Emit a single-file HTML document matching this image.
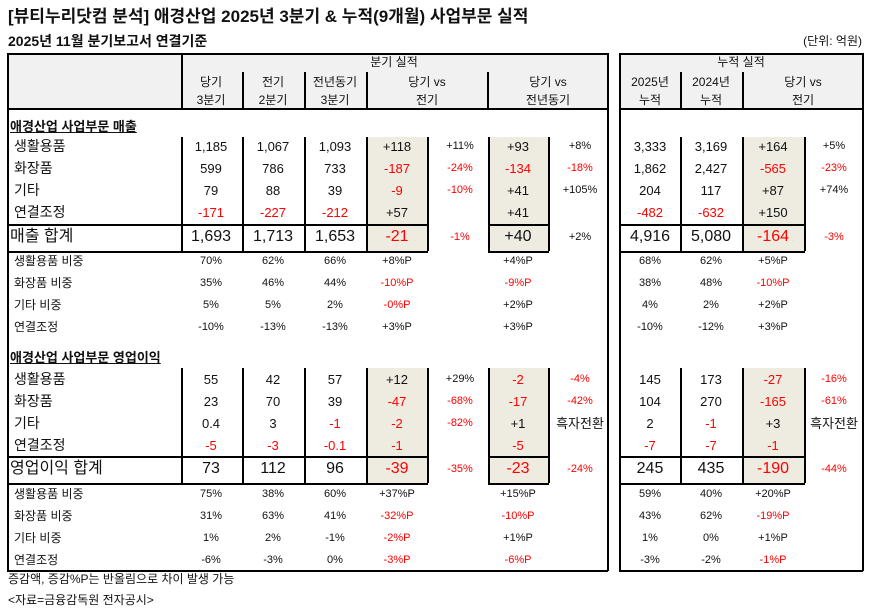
<!DOCTYPE html>
<html><head><meta charset="utf-8">
<style>
body{margin:0;background:#fff;width:870px;height:612px;position:relative;overflow:hidden;font-family:"Liberation Sans","Noto Sans CJK KR",sans-serif;color:#111}
.t{position:absolute;white-space:nowrap;line-height:1}
.c{transform:translateX(-50%)}
.r{color:#ff0000}
.ln{position:absolute;background:#000}
.sh{position:absolute;background:#eeebe1}
.hd{position:absolute;background:#f1f1f1}
</style></head><body>
<div id="root"></div>
<script>
var R=document.getElementById('root'),H='';
function T(x,y,s,fs,cls,extra){H+='<div class="t '+(cls||'')+'" style="left:'+x+'px;top:'+(y-fs*0.55)+'px;font-size:'+fs+'px;'+(extra||'')+'">'+s+'</div>';}
function L(x,y,w,h){H+='<div class="ln" style="left:'+x+'px;top:'+y+'px;width:'+w+'px;height:'+h+'px"></div>';}
function S(x,y,w,h,c){H+='<div class="'+c+'" style="left:'+x+'px;top:'+y+'px;width:'+w+'px;height:'+h+'px"></div>';}
S(7,53,601,56,'hd');S(619,53,244,56,'hd');
[[137,251],[368,483]].forEach(function(b){S(367,b[0],61,b[1]-b[0],'sh');S(488,b[0],61,b[1]-b[0],'sh');S(742,b[0],63,b[1]-b[0],'sh');});
L(7,53,601,1.5);L(7,570,601,1.5);L(7,53,1.5,518);L(607,53,1.5,518);
L(619,53,244,1.5);L(619,570,244,1.5);L(619,53,1.5,518);L(862,53,1.5,518);
L(7,108,601,1.5);L(619,108,244,1.5);
L(181,53,1.5,56);
[242,304,366,487].forEach(function(x){L(x,72,1.5,37)});
[680,742].forEach(function(x){L(x,72,1.5,37)});
[[137,251],[368,483]].forEach(function(b){
 [181,242,304,366,427,488,548,680,742,804].forEach(function(x){L(x,b[0],1.5,b[1]-b[0])});
 var t=b[1]-27;L(7,t,421,1.5);L(7,b[1],421,1.5);L(488,t,61,1.5);L(488,b[1],61,1.5);L(619,t,186,1.5);L(619,b[1],186,1.5);
});
H+='<div class="t" style="left:8px;top:8px;font-size:17px;font-weight:bold">[뷰티누리닷컴 분석] 애경산업 2025년 3분기 &amp; 누적(9개월) 사업부문 실적</div>';
H+='<div class="t" style="left:8px;top:34px;font-size:14px;font-weight:bold">2025년 11월 분기보고서 연결기준</div>';
H+='<div class="t" style="right:8px;top:35px;font-size:12px">(단위: 억원)</div>';
T(394,63,'분기 실적',12,'c');T(741,63,'누적 실적',12,'c');
var hc=[[211,'당기','3분기'],[273,'전기','2분기'],[335,'전년동기','3분기'],[427,'당기 vs','전기'],[548,'당기 vs','전년동기'],[650,'2025년','누적'],[711,'2024년','누적'],[803,'당기 vs','전기']];
hc.forEach(function(h){T(h[0],83,h[1],12,'c');T(h[0],101,h[2],12,'c');});
var X=[211,273,335,397,460,518,580,650,711,773,834];
var PCT={4:1,6:1,10:1};
function row(y,label,vals,fs,lx,lfs){T(lx,y,label,lfs);vals.forEach(function(v,i){if(v==='')return;var red=/^-/.test(v);var f=PCT[i]?(v==='흑자전환'?13:11):fs;T(X[i],y,v,f,'c'+(red?' r':''));});}
function sec(y,s){H+='<div class="t" style="left:10px;top:'+(y-7)+'px;font-size:13px;font-weight:bold;text-decoration:underline">'+s+'</div>';}
function ratio(y,label,v){T(14,y,label,12);var pos=[0,1,2,3,5,7,8,9];v.forEach(function(s,i){var red=/^-/.test(s)&&/P$/.test(s);T(X[pos[i]],y,s,11,'c'+(red?' r':''));});}
sec(127,'애경산업 사업부문 매출');
row(147,'생활용품',['1,185','1,067','1,093','+118','+11%','+93','+8%','3,333','3,169','+164','+5%'],13,14,14);
row(169,'화장품',['599','786','733','-187','-24%','-134','-18%','1,862','2,427','-565','-23%'],13,14,14);
row(191,'기타',['79','88','39','-9','-10%','+41','+105%','204','117','+87','+74%'],13,14,14);
row(213,'연결조정',['-171','-227','-212','+57','','+41','','-482','-632','+150',''],13,14,14);
row(238,'매출 합계',['1,693','1,713','1,653','-21','-1%','+40','+2%','4,916','5,080','-164','-3%'],16,10,16);
ratio(262,'생활용품 비중',['70%','62%','66%','+8%P','+4%P','68%','62%','+5%P']);
ratio(284,'화장품 비중',['35%','46%','44%','-10%P','-9%P','38%','48%','-10%P']);
ratio(306,'기타 비중',['5%','5%','2%','-0%P','+2%P','4%','2%','+2%P']);
ratio(328,'연결조정',['-10%','-13%','-13%','+3%P','+3%P','-10%','-12%','+3%P']);
sec(358,'애경산업 사업부문 영업이익');
row(380,'생활용품',['55','42','57','+12','+29%','-2','-4%','145','173','-27','-16%'],13,14,14);
row(402,'화장품',['23','70','39','-47','-68%','-17','-42%','104','270','-165','-61%'],13,14,14);
row(424,'기타',['0.4','3','-1','-2','-82%','+1','흑자전환','2','-1','+3','흑자전환'],13,14,14);
row(446,'연결조정',['-5','-3','-0.1','-1','','-5','','-7','-7','-1',''],13,14,14);
row(470,'영업이익 합계',['73','112','96','-39','-35%','-23','-24%','245','435','-190','-44%'],16,10,16);
ratio(495,'생활용품 비중',['75%','38%','60%','+37%P','+15%P','59%','40%','+20%P']);
ratio(517,'화장품 비중',['31%','63%','41%','-32%P','-10%P','43%','62%','-19%P']);
ratio(539,'기타 비중',['1%','2%','-1%','-2%P','+1%P','1%','0%','+1%P']);
ratio(561,'연결조정',['-6%','-3%','0%','-3%P','-6%P','-3%','-2%','-1%P']);
T(8,580,'증감액, 증감%P는 반올림으로 차이 발생 가능',12);
T(8,601,'&lt;자료=금융감독원 전자공시&gt;',12);
R.innerHTML=H;
</script>
</body></html>
